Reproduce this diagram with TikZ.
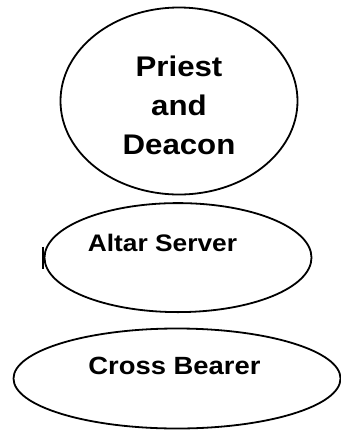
\documentclass[tikz,border=0pt]{standalone}
\usepackage{fontspec}
\setmainfont{Liberation Sans}
\usetikzlibrary{shapes.geometric}
\tikzset{
  oval/.style={draw=black, line width=1.8bp, ellipse, inner sep=0pt},
  lbl/.style={font=\bfseries, inner sep=0pt, xscale=1.1, transform shape},
}
\begin{document}
\begin{tikzpicture}[x=1bp, y=-1bp]
\useasboundingbox (0,0) rectangle (341,431);
\node[oval, minimum width=237bp, minimum height=187bp] (top) at (179,101) {};
\node[oval, minimum width=267bp, minimum height=109bp] (mid) at (178,257.6) {};
\node[oval, minimum width=327bp, minimum height=100bp] (bot) at (177,378.5) {};
\coordinate (tickA) at ([xshift=-0.8bp, yshift=11bp]mid.west);
\coordinate (tickB) at ([xshift=-0.8bp, yshift=-11bp]mid.west);
\draw[line width=2.2bp] (tickA) -- (tickB);
\node[lbl, align=center, font=\fontsize{28.5}{39}\selectfont\bfseries] (t1) at (179,105.5) {Priest\\and\\Deacon};
\node[lbl, anchor=base, font=\fontsize{24}{28}\selectfont\bfseries] (t2) at (162.5,251) {Altar Server};
\node[lbl, anchor=base, font=\fontsize{25}{30}\selectfont\bfseries] (t3) at (174.5,374) {Cross Bearer};
\end{tikzpicture}
\end{document}
